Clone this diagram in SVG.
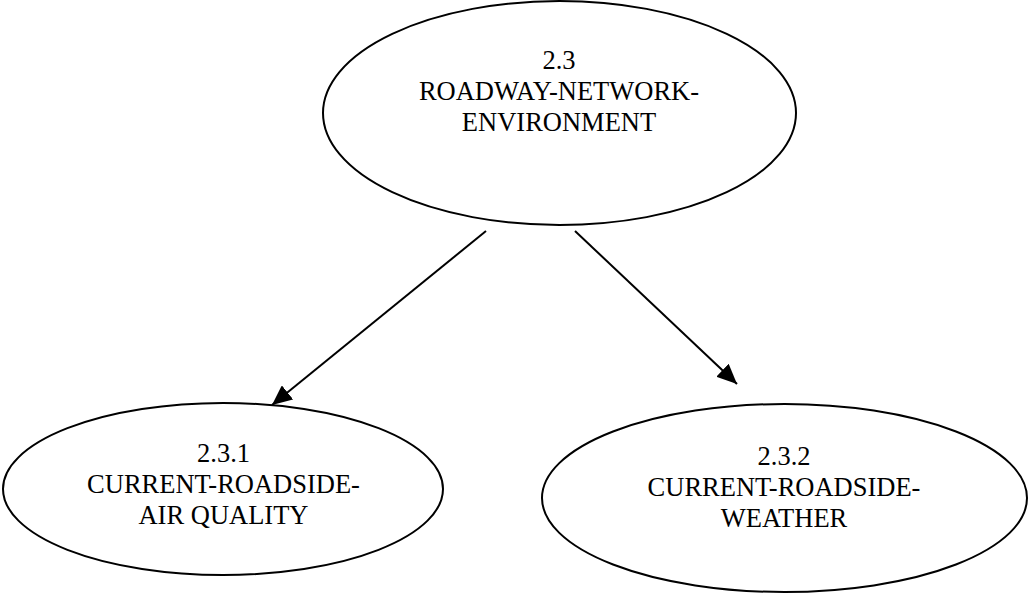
<svg xmlns="http://www.w3.org/2000/svg" width="1028" height="593" viewBox="0 0 1028 593">
<style>
.node{fill:#fff;stroke:#000;stroke-width:2}
.lbl{font-family:"Liberation Serif","Times New Roman",serif;font-size:26.5px;fill:#000;text-anchor:middle}
.edge{stroke:#000;stroke-width:2;fill:none}
</style>
<defs>
<marker id="ah" viewBox="0 0 20 18" refX="20" refY="9" markerWidth="20" markerHeight="18" markerUnits="userSpaceOnUse" orient="auto">
<path d="M0,0 L20,9 L0,18 Z" fill="#000"/>
</marker>
</defs>
<rect width="1028" height="593" fill="#fff"/>
<g id="edges">
<line class="edge" x1="486" y1="231" x2="272" y2="405" marker-end="url(#ah)"/>
<line class="edge" x1="575" y1="231" x2="737" y2="384" marker-end="url(#ah)"/>
</g>
<g id="n23">
<ellipse class="node" cx="559.5" cy="113" rx="236.5" ry="112"/>
<text class="lbl" x="559" y="68.5">2.3</text>
<text class="lbl" x="559" y="99.5">ROADWAY-NETWORK-</text>
<text class="lbl" x="559" y="130.5">ENVIRONMENT</text>
</g>
<g id="n231">
<ellipse class="node" cx="223" cy="489" rx="220" ry="86"/>
<text class="lbl" x="223.5" y="462">2.3.1</text>
<text class="lbl" x="223.5" y="493">CURRENT-ROADSIDE-</text>
<text class="lbl" x="223.5" y="523.5">AIR QUALITY</text>
</g>
<g id="n232">
<ellipse class="node" cx="784.5" cy="498" rx="242.5" ry="94"/>
<text class="lbl" x="784" y="464.5">2.3.2</text>
<text class="lbl" x="784" y="495.5">CURRENT-ROADSIDE-</text>
<text class="lbl" x="784" y="526.5">WEATHER</text>
</g>
</svg>
